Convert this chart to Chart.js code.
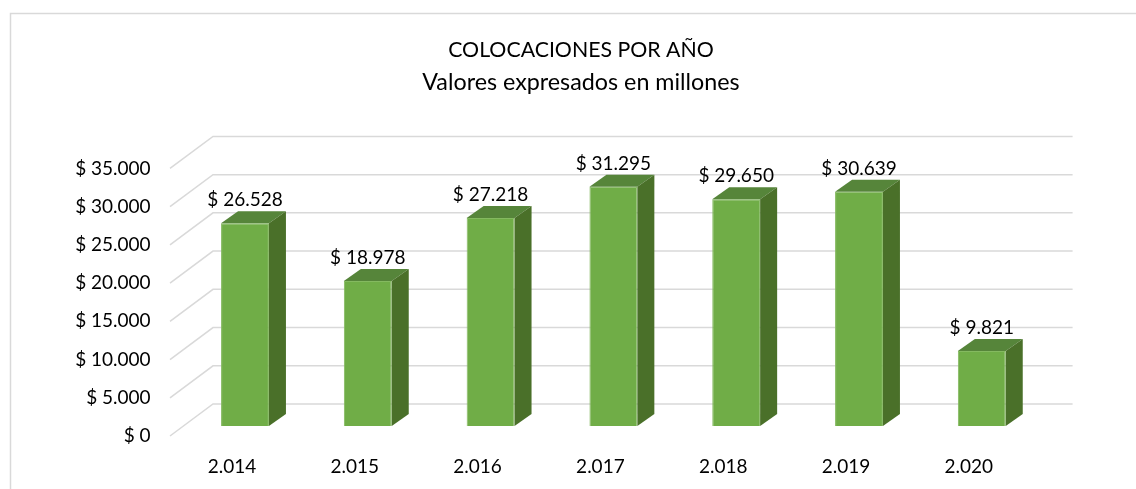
<!DOCTYPE html>
<html lang="es">
<head>
  <meta charset="UTF-8" />
  <title>Colocaciones por año</title>
  <script src="https://cdn.jsdelivr.net/npm/chart.js@4.4.0/dist/chart.umd.min.js"></script>
  <style>
    html, body { margin: 0; padding: 0; background: #fff; }
    .wrap { position: relative; width: 1136px; height: 489px; }
  </style>
</head>
<body>
  <div class="wrap">
    <canvas id="chart"></canvas>
  </div>

  <script>
    // datos del gráfico
    const years = ['2.014', '2.015', '2.016', '2.017', '2.018', '2.019', '2.020'];
    const colocaciones = [26528, 18978, 27218, 31295, 29650, 30639, 9821];
    const yTicks = [0, 5000, 10000, 15000, 20000, 25000, 30000, 35000];
    const titulo = 'COLOCACIONES POR AÑO';
    const subtitulo = 'Valores expresados en millones';

    // efecto 3D (profundidad del piso y de las barras)
    const FRONT_DX = -13.6, FRONT_DY = 10;
    const BACK_DX = 29.4, BACK_DY = -22;
    const BAR_DX = 17, BAR_DY = 12;

    const FONT = 'Lato';
    const LABEL_SIZE = 19;
    const TEXT_COLOR = '#000000';
    const GRID_COLOR = '#d9d9d9';

    function pesos(v) {
      return '$ ' + String(v).replace(/\B(?=(\d{3})+(?!\d))/g, '.');
    }

    // marco y fondo
    const framePlugin = {
      id: 'frame',
      beforeDraw(chart) {
        const ctx = chart.ctx;
        ctx.save();
        ctx.fillStyle = '#ffffff';
        ctx.fillRect(0, 0, chart.width, chart.height);
        ctx.strokeStyle = GRID_COLOR;
        ctx.lineWidth = 1.5;
        ctx.beginPath();
        ctx.moveTo(10.5, chart.height);
        ctx.lineTo(10.5, 13.5);
        ctx.lineTo(chart.width, 13.5);
        ctx.stroke();
        ctx.restore();
      }
    };

    // líneas de la pared del fondo y del lateral izquierdo
    const wallPlugin = {
      id: 'wall',
      beforeDatasetsDraw(chart) {
        const ctx = chart.ctx;
        const ys = chart.scales.y;
        const { left, right } = chart.chartArea;
        ctx.save();
        ctx.strokeStyle = GRID_COLOR;
        ctx.lineWidth = 1.5;
        ys.ticks.forEach(t => {
          const y = ys.getPixelForValue(t.value);
          ctx.beginPath();
          ctx.moveTo(left + FRONT_DX, y + FRONT_DY);
          ctx.lineTo(left + BACK_DX, y + BACK_DY);
          ctx.lineTo(right + BACK_DX, y + BACK_DY);
          ctx.stroke();
        });
        ctx.restore();
      }
    };

    // caras superior y lateral de las barras + etiquetas de valor
    const bar3dPlugin = {
      id: 'bar3d',
      afterDatasetsDraw(chart) {
        const ctx = chart.ctx;
        const meta = chart.getDatasetMeta(0);
        ctx.save();
        meta.data.forEach((bar, i) => {
          const l = bar.x - bar.width / 2;
          const r = bar.x + bar.width / 2;
          const top = bar.y;
          const base = bar.base;

          ctx.fillStyle = '#56853a';
          ctx.beginPath();
          ctx.moveTo(l, top);
          ctx.lineTo(l + BAR_DX, top - BAR_DY);
          ctx.lineTo(r + BAR_DX, top - BAR_DY);
          ctx.lineTo(r, top);
          ctx.closePath();
          ctx.fill();

          ctx.fillStyle = '#4a7029';
          ctx.beginPath();
          ctx.moveTo(r, top);
          ctx.lineTo(r + BAR_DX, top - BAR_DY);
          ctx.lineTo(r + BAR_DX, base - BAR_DY);
          ctx.lineTo(r, base);
          ctx.closePath();
          ctx.fill();

          ctx.fillStyle = TEXT_COLOR;
          ctx.font = LABEL_SIZE + 'px ' + FONT;
          ctx.textAlign = 'center';
          ctx.textBaseline = 'middle';
          ctx.fillText(pesos(colocaciones[i]), bar.x, top - 23);
        });
        ctx.restore();
      }
    };

    new Chart(document.getElementById('chart'), {
      type: 'bar',
      data: {
        labels: years,
        datasets: [{
          data: colocaciones,
          backgroundColor: '#70ad47',
          borderColor: '#84b960',
          borderWidth: 1,
          categoryPercentage: 1,
          barPercentage: 0.39
        }]
      },
      options: {
        responsive: true,
        maintainAspectRatio: false,
        animation: false,
        layout: { padding: { left: 26, right: 0, top: 0, bottom: 0 } },
        plugins: {
          legend: { display: false },
          tooltip: { enabled: false },
          title: {
            display: true,
            text: titulo,
            color: TEXT_COLOR,
            font: { family: FONT, size: 21.3, weight: 'normal', lineHeight: 1.2 },
            padding: { top: 37.2, bottom: 0 }
          },
          subtitle: {
            display: true,
            text: subtitulo,
            color: TEXT_COLOR,
            font: { family: FONT, size: 23.3, weight: 'normal', lineHeight: 1.2 },
            padding: { top: 6.2, bottom: 61.5 }
          }
        },
        scales: {
          x: {
            offset: true,
            grid: { display: false },
            border: { display: false },
            ticks: {
              color: TEXT_COLOR,
              font: { family: FONT, size: LABEL_SIZE },
              padding: 21,
              labelOffset: -13
            },
            afterFit(scale) { scale.height = 63; }
          },
          y: {
            min: 0,
            max: 35000,
            afterBuildTicks(scale) { scale.ticks = yTicks.map(v => ({ value: v })); },
            grid: { display: false, drawTicks: false },
            border: { display: false },
            ticks: {
              color: TEXT_COLOR,
              font: { family: FONT, size: LABEL_SIZE },
              padding: 33,
              labelOffset: 10,
              callback: v => pesos(v)
            },
            afterFit(scale) {
              scale.width = 183.6 - 26;
              scale.paddingTop = 0;
              scale.paddingBottom = 0;
            }
          },
          // eje vacío a la derecha: reserva el espacio de la pared del fondo
          yRight: {
            position: 'right',
            grid: { display: false },
            border: { display: false },
            ticks: { display: false },
            afterFit(scale) {
              scale.width = 1136 - 1043.2;
              scale.paddingTop = 0;
              scale.paddingBottom = 0;
            }
          }
        }
      },
      plugins: [framePlugin, wallPlugin, bar3dPlugin]
    });
  </script>
</body>
</html>
